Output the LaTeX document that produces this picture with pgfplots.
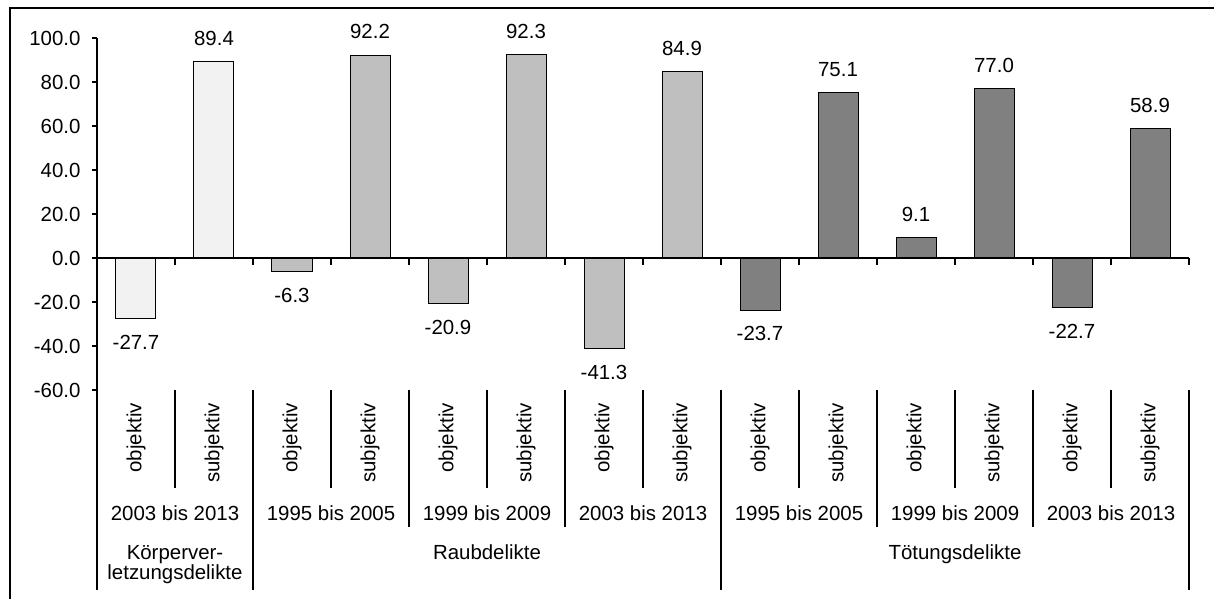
\documentclass[border=0pt]{standalone}
\usepackage{fontspec}
\setmainfont{Liberation Sans}
\usepackage{pgfplots}
\pgfplotsset{compat=1.18}
\definecolor{cK}{HTML}{F2F2F2}
\definecolor{cR}{HTML}{BFBFBF}
\definecolor{cT}{HTML}{808080}
\newcommand\fs{\fontsize{20.5}{20}\selectfont}
\begin{document}
\begin{tikzpicture}[x=1bp,y=1bp]
\useasboundingbox (-97,-209) rectangle (1117,390);
\begin{scope}
\clip (-97,-209) rectangle (1117,390);
\draw[line width=1.3bp] (-87,-260) -- (-87,382) -- (1200,382);
\end{scope}
\begin{axis}[
  at={(0,0)}, anchor=south west,
  scale only axis, width=1092bp, height=352bp,
  xmin=-0.5, xmax=13.5, ymin=-60, ymax=100,
  axis x line=none, axis y line*=left,
  ytick={-60,-40,...,100},
  tick align=outside, major tick length=5bp,
  y axis line style={line width=1.3bp, -},
  ytick style={line width=1.3bp, black},
  yticklabel={\pgfmathprintnumber[fixed, fixed zerofill, precision=1, assume math mode=true]{\tick}},
  yticklabel style={font=\fs, xshift=-8bp},
  clip=false,
  nodes near coords={\pgfmathprintnumber[fixed, fixed zerofill, precision=1, assume math mode=true]{\pgfplotspointmeta}},
  nodes near coords align={vertical},
  every node near coord/.append style={font=\fs, inner sep=0pt, outer sep=16bp, black},
]
\addplot[ybar, bar width=40bp, fill=cK, draw=black, line width=1bp] coordinates {(0,-27.7) (1,89.4)};
\addplot[ybar, bar width=40bp, fill=cR, draw=black, line width=1bp] coordinates {(2,-6.3) (3,92.2) (4,-20.9) (5,92.3) (6,-41.3) (7,84.9)};
\addplot[ybar, bar width=40bp, fill=cT, draw=black, line width=1bp] coordinates {(8,-23.7) (9,75.1) (10,9.1) (11,77.0) (12,-22.7) (13,58.9)};
\end{axis}
% zero line and ticks
\draw[line width=1.3bp] (0,132) -- (1092,132);
\foreach \k in {1,...,14} \draw[line width=1.3bp] (78*\k,132) -- (78*\k,125);
% category separators
\foreach \k in {1,3,...,13} \draw[line width=1.3bp] (78*\k,0) -- (78*\k,-98);
\foreach \k in {4,6,10,12} \draw[line width=1.3bp] (78*\k,0) -- (78*\k,-137);
\foreach \k in {0,2,8,14} \draw[line width=1.3bp] (78*\k,0) -- (78*\k,-200);
% rotated labels
\foreach \k in {0,2,...,12} \node[rotate=90, anchor=east, font=\fs, inner sep=0pt] at (78*\k+39,-13) {objektiv};
\foreach \k in {1,3,...,13} \node[rotate=90, anchor=east, font=\fs, inner sep=0pt] at (78*\k+39,-13) {subjektiv};
% year labels
\foreach \x/\t in {78/2003 bis 2013, 234/1995 bis 2005, 390/1999 bis 2009, 546/2003 bis 2013, 702/1995 bis 2005, 858/1999 bis 2009, 1014/2003 bis 2013}
  \node[anchor=base, font=\fs, inner sep=0pt] at (\x,-131) {\t};
% group labels
\node[anchor=base, font=\fs, inner sep=0pt] at (78,-170) {Körperver-};
\node[anchor=base, font=\fs, inner sep=0pt] at (78,-190) {letzungsdelikte};
\node[anchor=base, font=\fs, inner sep=0pt] at (390,-170) {Raubdelikte};
\node[anchor=base, font=\fs, inner sep=0pt] at (858,-170) {Tötungsdelikte};
\end{tikzpicture}
\end{document}
